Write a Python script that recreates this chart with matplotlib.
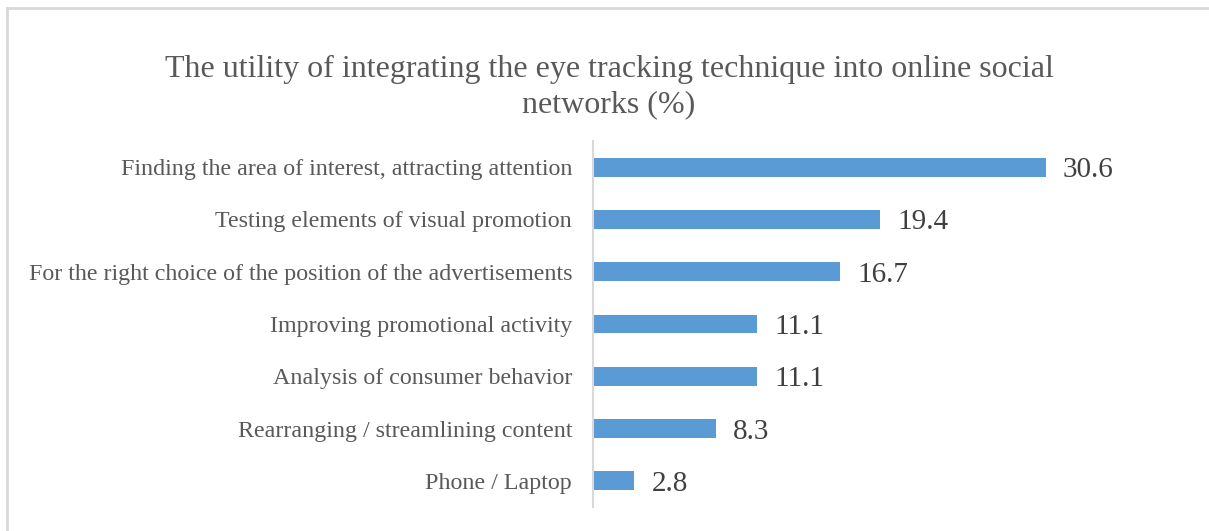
import matplotlib.pyplot as plt
from matplotlib.lines import Line2D

plt.rcParams['font.family'] = ['Liberation Serif', 'DejaVu Serif']

categories = [
    "Finding the area of interest, attracting attention",
    "Testing elements of visual promotion",
    "For the right choice of the position of the advertisements",
    "Improving promotional activity",
    "Analysis of consumer behavior",
    "Rearranging / streamlining content",
    "Phone / Laptop",
]
values = [30.6, 19.4, 16.7, 11.1, 11.1, 8.3, 2.8]
title = "The utility of integrating the eye tracking technique into online social\nnetworks (%)"

BAR_COLOR = "#5B9BD5"
TEXT_GRAY = "#595959"

fig = plt.figure(figsize=(12.09, 5.31), dpi=100)
ax = fig.add_axes([593 / 1209, 1 - 507 / 531, 518 / 1209, 366 / 531])

pos = list(range(len(categories)))
ax.barh(pos, values, height=0.36, color=BAR_COLOR)
ax.set_ylim(len(categories) - 0.5, -0.5)
ax.set_xlim(0, 35)
ax.set_yticks(pos)
ax.set_yticklabels(categories, fontsize=17.3, color=TEXT_GRAY)
ax.tick_params(axis="y", length=0, pad=15)
ax.set_xticks([])

for s in ["top", "right", "bottom"]:
    ax.spines[s].set_visible(False)
ax.spines["left"].set_color("#D9D9D9")
ax.spines["left"].set_linewidth(1.5)

for p, v in zip(pos, values):
    ax.annotate(f"{v:.1f}", (v, p), xytext=(17, -3), textcoords="offset pixels",
                va="center", ha="left", fontsize=21, color="#404040")

fig.text(609 / 1209, 1 - 87 / 531, title, ha="center", va="center",
         fontsize=23, color=TEXT_GRAY, linespacing=1.25)

# chart border (only top and left edges are visible in the crop)
border = dict(transform=fig.transFigure, color="#D9D9D9", linewidth=2)
fig.lines.append(Line2D([7 / 1209, 7 / 1209], [0, 1 - 8 / 531], **border))
fig.lines.append(Line2D([7 / 1209, 1], [1 - 8 / 531, 1 - 8 / 531], **border))

fig.savefig("out.png", dpi=100)
